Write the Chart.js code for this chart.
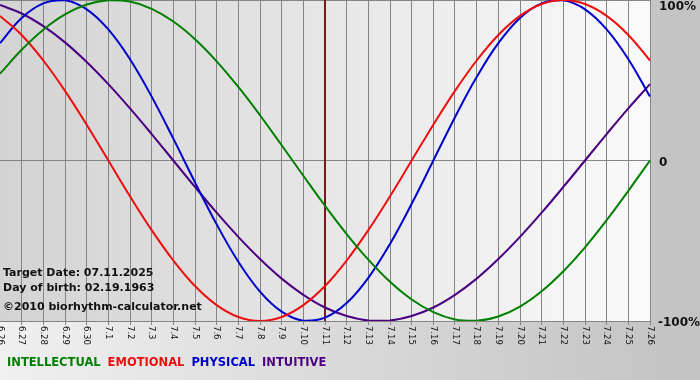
<!DOCTYPE html>
<html><head><meta charset="utf-8">
<script src="https://cdn.jsdelivr.net/npm/chart.js@4.4.1/dist/chart.umd.min.js"></script>
<style>html,body{margin:0;padding:0;background:#d8d8d8}#wrap{width:700px;height:380px;position:relative}</style>
</head><body><div id="wrap"><canvas id="c" width="700" height="380"></canvas></div>
<script>
const dayLabels = ['6.26','6.27','6.28','6.29','6.30','7.1','7.2','7.3','7.4','7.5','7.6','7.7','7.8','7.9','7.10','7.11','7.12','7.13','7.14','7.15','7.16','7.17','7.18','7.19','7.20','7.21','7.22','7.23','7.24','7.25','7.26'];
const intellectual = [54.1, 69.0, 81.5, 91.0, 97.2, 99.9, 99.0, 94.5, 86.6, 75.6, 61.8, 45.8, 28.2, 9.5, -9.5, -28.2, -45.8, -61.8, -75.6, -86.6, -94.5, -99.0, -99.9, -97.2, -91.0, -81.5, -69.0, -54.1, -37.2, -18.9, 0];
const emotional = [90.1, 78.2, 62.3, 43.4, 22.3, 0, -22.3, -43.4, -62.3, -78.2, -90.1, -97.5, -100, -97.5, -90.1, -78.2, -62.3, -43.4, -22.3, 0, 22.3, 43.4, 62.3, 78.2, 90.1, 97.5, 100, 97.5, 90.1, 78.2, 62.3];
const physical = [73.1, 88.8, 97.9, 99.8, 94.2, 81.7, 63.1, 39.8, 13.6, -13.6, -39.8, -63.1, -81.7, -94.2, -99.8, -97.9, -88.8, -73.1, -52.0, -27.0, 0, 27.0, 52.0, 73.1, 88.8, 97.9, 99.8, 94.2, 81.7, 63.1, 39.8];
const intuitive = [96.9, 91.6, 83.7, 73.6, 61.4, 47.6, 32.5, 16.5, 0, -16.5, -32.5, -47.6, -61.4, -73.6, -83.7, -91.6, -96.9, -99.7, -99.7, -96.9, -91.6, -83.7, -73.6, -61.4, -47.6, -32.5, -16.5, 0, 16.5, 32.5, 47.6];
const seriesNames = ['INTELLECTUAL', 'EMOTIONAL', 'PHYSICAL', 'INTUITIVE'];
const seriesColors = ['#008000', '#ee0e0e', '#0000cc', '#4b0082'];
const yTickValues = [100, 0, -100];
const yTickLabels = ['100%', '0', '-100%'];
const targetDay = '7.11';
const infoLines = ['Target Date: 07.11.2025', 'Day of birth: 02.19.1963', '\u00A92010 biorhythm-calculator.net'];

const decor = {
  id: 'decor',
  beforeDraw(chart) {
    const {ctx, chartArea: a, width, height} = chart;
    ctx.save();
    let g = ctx.createLinearGradient(0, 0, width, 0);
    g.addColorStop(0, '#f0f0f0'); g.addColorStop(1, '#c2c2c2');
    ctx.fillStyle = g; ctx.fillRect(0, 0, width, height);
    g = ctx.createLinearGradient(a.left, 0, a.right, 0);
    g.addColorStop(0, '#d3d3d3'); g.addColorStop(1, '#fafafa');
    ctx.fillStyle = g; ctx.fillRect(a.left, a.top, a.right - a.left, a.bottom - a.top);
    ctx.restore();
  },
  beforeDatasetsDraw(chart) {
    const {ctx, chartArea: a, scales} = chart;
    ctx.save();
    const tx = scales.x.getPixelForValue(dayLabels.indexOf(targetDay));
    ctx.strokeStyle = '#7a1a1a'; ctx.lineWidth = 2;
    ctx.beginPath(); ctx.moveTo(tx, a.top); ctx.lineTo(tx, a.bottom); ctx.stroke();
    ctx.fillStyle = '#111';
    ctx.font = 'bold 11px "DejaVu Sans"';
    ctx.textBaseline = 'alphabetic'; ctx.textAlign = 'left';
    ctx.fillText(infoLines[0], 3, 276);
    ctx.fillText(infoLines[1], 3, 291);
    ctx.fillText(infoLines[2], 3, 310);
    ctx.restore();
  },
  afterDraw(chart) {
    const {ctx, chartArea: a, scales} = chart;
    ctx.save();
    // x tick labels, rotated clockwise
    ctx.fillStyle = '#111';
    ctx.font = '8.5px "DejaVu Sans"';
    ctx.textBaseline = 'middle'; ctx.textAlign = 'left';
    dayLabels.forEach((lab, i) => {
      const x = scales.x.getPixelForValue(i);
      ctx.save(); ctx.translate(x, a.bottom + 5); ctx.rotate(Math.PI / 2);
      ctx.fillText(lab, 0, 0); ctx.restore();
    });
    // y labels on the right
    ctx.font = 'bold 12px "DejaVu Sans"';
    ctx.fillStyle = '#111';
    yTickValues.forEach((v, i) => {
      const y = Math.max(scales.y.getPixelForValue(v) + 2, 7);
      ctx.fillText(yTickLabels[i], yTickLabels[i].startsWith('-') ? a.right + 8 : a.right + 9, y);
    });
    // legend
    ctx.font = 'bold 11.5px "DejaVu Sans"';
    ctx.textBaseline = 'alphabetic';
    let lx = 7;
    chart.data.datasets.forEach(ds => {
      ctx.fillStyle = ds.borderColor;
      ctx.fillText(ds.label, lx, 366);
      lx += ctx.measureText(ds.label).width + 7;
    });
    ctx.restore();
  }
};

const series = [intellectual, emotional, physical, intuitive];
new Chart(document.getElementById('c'), {
  type: 'line',
  data: {
    labels: dayLabels,
    datasets: series.map((d, i) => ({
      label: seriesNames[i], data: d, borderColor: seriesColors[i],
      borderWidth: 2, pointRadius: 0, tension: 0.4, fill: false
    }))
  },
  options: {
    responsive: false, animation: false, devicePixelRatio: 1,
    layout: {padding: {left: 0, top: 0, right: 50, bottom: 55}},
    plugins: {legend: {display: false}, tooltip: {enabled: false}},
    scales: {
      x: {
        offset: false,
        ticks: {display: false},
        border: {display: false},
        grid: {drawTicks: true, tickLength: 4, lineWidth: 1,
          color: c => c.index === 0 ? 'rgba(0,0,0,0)' : '#858585'}
      },
      y: {
        position: 'right', min: -100, max: 100,
        ticks: {display: false, stepSize: 100},
        border: {display: false},
        grid: {drawTicks: false, lineWidth: 1, color: '#858585'}
      }
    }
  },
  plugins: [decor]
});
</script></body></html>
